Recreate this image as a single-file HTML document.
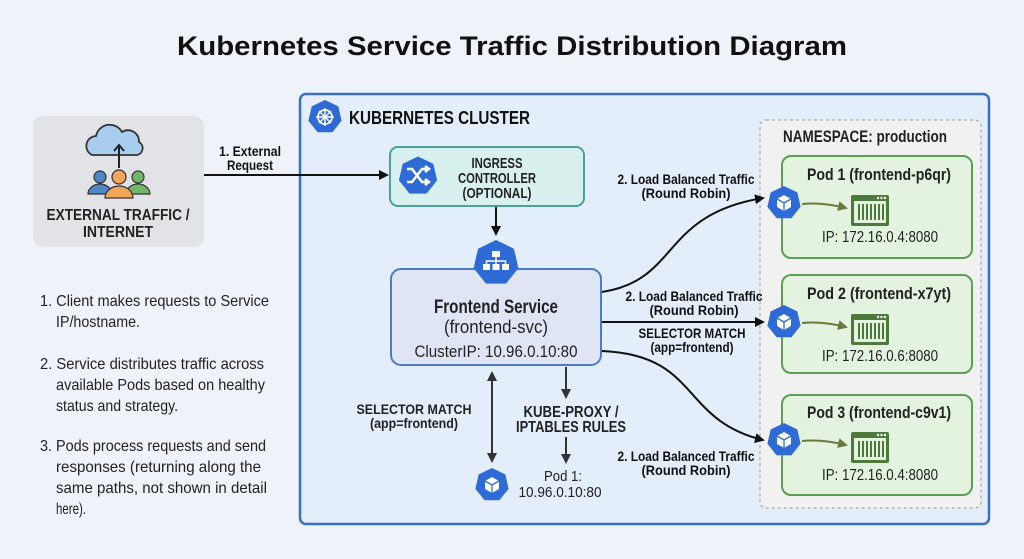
<!DOCTYPE html>
<html><head><meta charset="utf-8"><style>
html,body{margin:0;padding:0;background:#eef3f9;}
svg{display:block;font-family:"Liberation Sans",sans-serif;}
</style></head><body>
<svg width="1024" height="559" viewBox="0 0 1024 559" xmlns="http://www.w3.org/2000/svg">
<defs>
<marker id="ah" markerWidth="10" markerHeight="10" refX="8" refY="5" orient="auto" markerUnits="userSpaceOnUse"><path d="M0,0 L10,5 L0,10 z" fill="#111"/></marker>
<marker id="ahg" markerWidth="10" markerHeight="10" refX="8" refY="5" orient="auto" markerUnits="userSpaceOnUse"><path d="M0,0 L10,5 L0,10 z" fill="#333"/></marker>
<marker id="ahs" markerWidth="10" markerHeight="10" refX="2" refY="5" orient="auto" markerUnits="userSpaceOnUse"><path d="M10,0 L0,5 L10,10 z" fill="#333"/></marker>
<marker id="aho" markerWidth="10" markerHeight="10" refX="8" refY="5" orient="auto" markerUnits="userSpaceOnUse"><path d="M0,0 L10,5 L0,10 z" fill="#6b7a3c"/></marker>
<g id="hep"><polygon points="0,-17 13.3,-10.6 16.6,3.8 7.4,15.3 -7.4,15.3 -16.6,3.8 -13.3,-10.6" fill="#2f6bd6"/></g>
<g id="cube"><use href="#hep"/><path d="M0,-8 L7,-4 L7,4 L0,8 L-7,4 L-7,-4 Z" fill="#fff"/><path d="M-7,-4 L0,0 L7,-4 M0,0 L0,8" stroke="#2f6bd6" stroke-width="1.3" fill="none"/></g>
<g id="srv"><rect x="-19" y="-14" width="38" height="31" rx="2" fill="#4c7a3a"/><rect x="-16" y="-8" width="32" height="22" fill="#e3f3df"/><g fill="#4c7a3a"><rect x="-12" y="-5" width="2" height="16"/><rect x="-8" y="-5" width="2" height="16"/><rect x="-4" y="-5" width="2" height="16"/><rect x="0" y="-5" width="2" height="16"/><rect x="4" y="-5" width="2" height="16"/><rect x="8" y="-5" width="2" height="16"/><rect x="12" y="-5" width="2" height="16"/></g><g fill="#fff"><circle cx="8" cy="-11" r="1.2"/><circle cx="11.5" cy="-11" r="1.2"/><circle cx="15" cy="-11" r="1.2"/></g></g>
</defs>
<rect width="1024" height="559" fill="#eef3f9"/>
<text x="512" y="55" text-anchor="middle" font-weight="bold" font-size="27" fill="#111" textLength="670" lengthAdjust="spacingAndGlyphs">Kubernetes Service Traffic Distribution Diagram</text>

<!-- external -->
<rect x="33" y="116" width="171" height="131" rx="10" fill="#e1e3e7"/>
<path d="M92,155 a10,10 0 0 1 4,-19 a14,14 0 0 1 26,-4 a11,11 0 0 1 17,10 a7,7 0 0 1 -2,13 z" fill="#a9cdee" stroke="#333" stroke-width="1.8"/>
<path d="M119,168 L119,146 M114,151 L119,145 L124,151" stroke="#222" stroke-width="2" fill="none"/>
<circle cx="100" cy="177" r="6" fill="#4f86c6" stroke="#333" stroke-width="1.2"/><path d="M88,194 a12,10 0 0 1 24,0 z" fill="#4f86c6" stroke="#333" stroke-width="1.2"/>
<circle cx="138" cy="177" r="6" fill="#6fb56a" stroke="#333" stroke-width="1.2"/><path d="M126,194 a12,10 0 0 1 24,0 z" fill="#6fb56a" stroke="#333" stroke-width="1.2"/>
<circle cx="119" cy="177" r="7" fill="#f2a65a" stroke="#333" stroke-width="1.2"/><path d="M105,198 a14,12 0 0 1 28,0 z" fill="#f2a65a" stroke="#333" stroke-width="1.2"/>
<text x="118" y="220" text-anchor="middle" font-weight="bold" font-size="16" fill="#222" textLength="143" lengthAdjust="spacingAndGlyphs">EXTERNAL TRAFFIC /</text>
<text x="118" y="237" text-anchor="middle" font-weight="bold" font-size="16" fill="#222" textLength="70" lengthAdjust="spacingAndGlyphs">INTERNET</text>

<!-- left notes -->
<g font-size="16" fill="#222" lengthAdjust="spacingAndGlyphs">
<text x="40" y="306" textLength="229" lengthAdjust="spacingAndGlyphs">1. Client makes requests to Service</text>
<text x="56" y="327" textLength="84" lengthAdjust="spacingAndGlyphs">IP/hostname.</text>
<text x="40" y="369" textLength="224" lengthAdjust="spacingAndGlyphs">2. Service distributes traffic across</text>
<text x="56" y="390" textLength="209" lengthAdjust="spacingAndGlyphs">available Pods based on healthy</text>
<text x="56" y="411" textLength="122" lengthAdjust="spacingAndGlyphs">status and strategy.</text>
<text x="40" y="451" textLength="226" lengthAdjust="spacingAndGlyphs">3. Pods process requests and send</text>
<text x="56" y="472" textLength="205" lengthAdjust="spacingAndGlyphs">responses (returning along the</text>
<text x="56" y="493" textLength="211" lengthAdjust="spacingAndGlyphs">same paths, not shown in detail</text>
<text x="56" y="514" textLength="30" lengthAdjust="spacingAndGlyphs">here).</text>
</g>

<!-- cluster -->
<rect x="300" y="94" width="689" height="430" rx="6" fill="#e3eefa" stroke="#3a6fc4" stroke-width="2.5"/>
<use href="#hep" x="325" y="117"/>
<circle cx="325" cy="117" r="7" fill="none" stroke="#fff" stroke-width="1.8"/>
<path d="M325,108 V126 M316,117 H334 M319,111 L331,123 M331,111 L319,123" stroke="#fff" stroke-width="1.4"/>
<text x="349" y="124" font-weight="bold" font-size="18" fill="#111" textLength="181" lengthAdjust="spacingAndGlyphs">KUBERNETES CLUSTER</text>

<!-- external arrow -->
<line x1="204" y1="175" x2="387" y2="175" stroke="#111" stroke-width="2" marker-end="url(#ah)"/>
<text x="250" y="156" text-anchor="middle" font-weight="bold" font-size="14" fill="#111" textLength="62" lengthAdjust="spacingAndGlyphs">1. External</text>
<text x="250" y="170" text-anchor="middle" font-weight="bold" font-size="14" fill="#111" textLength="46" lengthAdjust="spacingAndGlyphs">Request</text>

<!-- ingress -->
<rect x="390" y="147" width="194" height="59" rx="8" fill="#d9f1ee" stroke="#4aa29a" stroke-width="2"/>
<use href="#hep" transform="translate(418 176) scale(1.15)"/>
<path d="M407,169 h5 l10,13 h6 M407,182 h5 l10,-13 h6 M425,166 l4,3 l-4,3 M425,179 l4,3 l-4,3" stroke="#fff" stroke-width="2.4" fill="none"/>
<g font-weight="bold" font-size="15" fill="#222" text-anchor="middle">
<text x="497" y="168" textLength="51" lengthAdjust="spacingAndGlyphs">INGRESS</text><text x="497" y="183" textLength="78" lengthAdjust="spacingAndGlyphs">CONTROLLER</text><text x="497" y="198" textLength="69" lengthAdjust="spacingAndGlyphs">(OPTIONAL)</text></g>
<line x1="496" y1="207" x2="496" y2="234" stroke="#111" stroke-width="2" marker-end="url(#ah)"/>

<!-- service -->
<rect x="391" y="269" width="210" height="96" rx="10" fill="#dfe5f4" stroke="#4a7cc2" stroke-width="2"/>
<use href="#hep" transform="translate(496 263) scale(1.35)"/>
<g fill="#fff"><rect x="492" y="251" width="8" height="6"/><rect x="483" y="264" width="7" height="6"/><rect x="492.5" y="264" width="7" height="6"/><rect x="502" y="264" width="7" height="6"/></g>
<path d="M496,257 v4 M486.5,264 v-3 h19 v3 M496,261 v3" stroke="#fff" stroke-width="1.4" fill="none"/>
<text x="496" y="313" text-anchor="middle" font-weight="bold" font-size="19" fill="#222" textLength="124" lengthAdjust="spacingAndGlyphs">Frontend Service</text>
<text x="496" y="333" text-anchor="middle" font-size="18" fill="#222" textLength="104" lengthAdjust="spacingAndGlyphs">(frontend-svc)</text>
<text x="496" y="357" text-anchor="middle" font-size="17" fill="#222" textLength="163" lengthAdjust="spacingAndGlyphs">ClusterIP: 10.96.0.10:80</text>

<!-- bottom -->
<line x1="492" y1="373" x2="492" y2="461" stroke="#333" stroke-width="2" marker-start="url(#ahs)" marker-end="url(#ahg)"/>
<text x="414" y="414" text-anchor="middle" font-weight="bold" font-size="14" fill="#222" textLength="115" lengthAdjust="spacingAndGlyphs">SELECTOR MATCH</text>
<text x="414" y="428" text-anchor="middle" font-weight="bold" font-size="14" fill="#222" textLength="88" lengthAdjust="spacingAndGlyphs">(app=frontend)</text>
<use href="#cube" x="492" y="485"/>
<line x1="566" y1="367" x2="566" y2="397" stroke="#333" stroke-width="2" marker-end="url(#ahg)"/>
<text x="571" y="417" text-anchor="middle" font-weight="bold" font-size="16" fill="#222" textLength="95" lengthAdjust="spacingAndGlyphs">KUBE-PROXY /</text>
<text x="571" y="432" text-anchor="middle" font-weight="bold" font-size="16" fill="#222" textLength="110" lengthAdjust="spacingAndGlyphs">IPTABLES RULES</text>
<line x1="566" y1="437" x2="566" y2="462" stroke="#333" stroke-width="2" marker-end="url(#ahg)"/>
<text x="563" y="481" text-anchor="middle" font-size="15" fill="#222" textLength="38" lengthAdjust="spacingAndGlyphs">Pod 1:</text>
<text x="560" y="497" text-anchor="middle" font-size="15" fill="#222" textLength="83" lengthAdjust="spacingAndGlyphs">10.96.0.10:80</text>

<!-- namespace -->
<rect x="760" y="120" width="221" height="388" rx="6" fill="#f1f2f0" stroke="#999" stroke-width="1" stroke-dasharray="3,3"/>
<text x="865" y="142" text-anchor="middle" font-weight="bold" font-size="17" fill="#222" textLength="164" lengthAdjust="spacingAndGlyphs">NAMESPACE: production</text>

<g fill="#222">
<rect x="782" y="156" width="190" height="102" rx="9" fill="#e3f3df" stroke="#5c9e55" stroke-width="2"/>
<text x="879" y="180" text-anchor="middle" font-weight="bold" font-size="17" textLength="144" lengthAdjust="spacingAndGlyphs">Pod 1 (frontend-p6qr)</text>
<text x="822" y="242" font-size="16" textLength="116" lengthAdjust="spacingAndGlyphs">IP: 172.16.0.4:8080</text>
<rect x="782" y="275" width="190" height="98" rx="9" fill="#e3f3df" stroke="#5c9e55" stroke-width="2"/>
<text x="879" y="299" text-anchor="middle" font-weight="bold" font-size="17" textLength="144" lengthAdjust="spacingAndGlyphs">Pod 2 (frontend-x7yt)</text>
<text x="822" y="361" font-size="16" textLength="116" lengthAdjust="spacingAndGlyphs">IP: 172.16.0.6:8080</text>
<rect x="782" y="395" width="190" height="100" rx="9" fill="#e3f3df" stroke="#5c9e55" stroke-width="2"/>
<text x="879" y="418" text-anchor="middle" font-weight="bold" font-size="17" textLength="144" lengthAdjust="spacingAndGlyphs">Pod 3 (frontend-c9v1)</text>
<text x="822" y="480" font-size="16" textLength="116" lengthAdjust="spacingAndGlyphs">IP: 172.16.0.4:8080</text>
</g>
<g stroke="#6b7a3c" stroke-width="2" fill="none">
<path d="M802,204 q20,-2 44,4" marker-end="url(#aho)"/>
<path d="M802,323 q20,-2 44,4" marker-end="url(#aho)"/>
<path d="M802,441 q20,-2 44,4" marker-end="url(#aho)"/>
</g>
<use href="#srv" x="870" y="209"/>
<use href="#srv" x="870" y="328"/>
<use href="#srv" x="870" y="446"/>

<!-- LB arrows -->
<g stroke="#111" stroke-width="2" fill="none">
<path d="M602,292 C680,280 660,215 763,198" marker-end="url(#ah)"/>
<line x1="602" y1="322" x2="763" y2="322" marker-end="url(#ah)"/>
<path d="M602,351 C700,355 680,420 763,440" marker-end="url(#ah)"/>
</g>
<use href="#cube" x="784" y="203"/>
<use href="#cube" x="784" y="322"/>
<use href="#cube" x="784" y="440"/>
<g font-weight="bold" font-size="14" fill="#111" text-anchor="middle">
<text x="686" y="184" textLength="137" lengthAdjust="spacingAndGlyphs">2. Load Balanced Traffic</text><text x="686" y="198" textLength="89" lengthAdjust="spacingAndGlyphs">(Round Robin)</text>
<text x="694" y="301" textLength="137" lengthAdjust="spacingAndGlyphs">2. Load Balanced Traffic</text><text x="694" y="315" textLength="89" lengthAdjust="spacingAndGlyphs">(Round Robin)</text>
<text x="692" y="338" textLength="107" lengthAdjust="spacingAndGlyphs">SELECTOR MATCH</text><text x="692" y="352" textLength="83" lengthAdjust="spacingAndGlyphs">(app=frontend)</text>
<text x="686" y="461" textLength="137" lengthAdjust="spacingAndGlyphs">2. Load Balanced Traffic</text><text x="686" y="475" textLength="89" lengthAdjust="spacingAndGlyphs">(Round Robin)</text>
</g>
</svg>
</body></html>
